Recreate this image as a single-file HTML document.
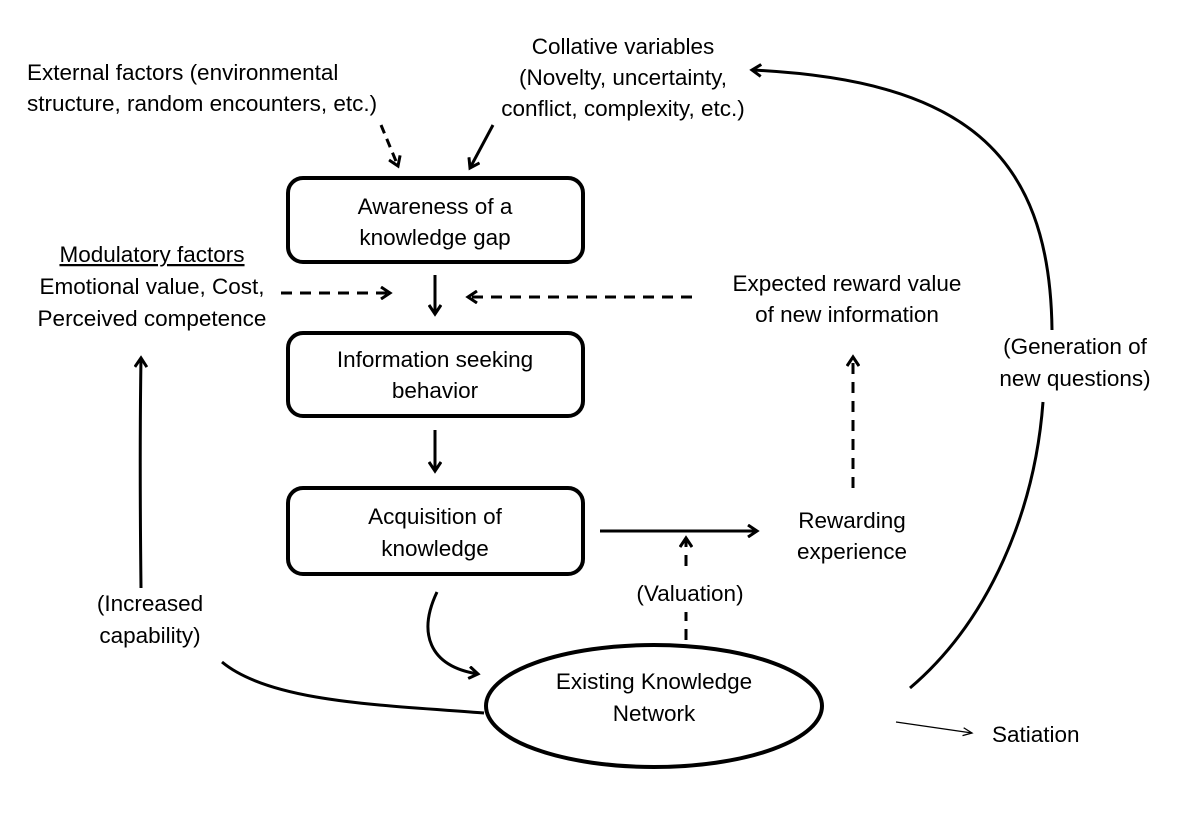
<!DOCTYPE html>
<html><head><style>
html,body{margin:0;padding:0;background:#fff;}
svg{display:block;}
text{font-family:"Liberation Sans",sans-serif;font-size:22.5px;fill:#000;}
</style></head><body>
<svg width="1200" height="817" viewBox="0 0 1200 817" xmlns="http://www.w3.org/2000/svg">
<defs>
<marker id="a" markerWidth="14" markerHeight="14" refX="10" refY="7" orient="auto" markerUnits="userSpaceOnUse">
<path d="M1,1 L10,7 L1,13" fill="none" stroke="#000" stroke-width="3"/>
</marker>
<marker id="t" markerWidth="12" markerHeight="10" refX="10" refY="5" orient="auto" markerUnits="userSpaceOnUse">
<path d="M1,1 L10,5 L1,9" fill="none" stroke="#000" stroke-width="1.3"/>
</marker>
</defs>
<g fill="none" stroke="#000" stroke-width="4">
<rect x="288" y="178" width="295" height="84" rx="15"/>
<rect x="288" y="333" width="295" height="83" rx="15"/>
<rect x="288" y="488" width="295" height="86" rx="15"/>
<ellipse cx="654" cy="706" rx="168" ry="61"/>
</g>
<g fill="none" stroke="#000" stroke-width="3">
<path d="M381,125 L398,166" stroke-dasharray="9,6" marker-end="url(#a)"/>
<path d="M493,125 L470,168" marker-end="url(#a)"/>
<path d="M435,275 L435,314" marker-end="url(#a)"/>
<path d="M281,293 L390,293" stroke-dasharray="11,8" marker-end="url(#a)"/>
<path d="M692,297 L468,297" stroke-dasharray="11,8" marker-end="url(#a)"/>
<path d="M435,430 L435,471" marker-end="url(#a)"/>
<path d="M600,531 L757,531" marker-end="url(#a)"/>
<path d="M686,640 L686,612" stroke-dasharray="11,8"/>
<path d="M686,566 L686,538" stroke-dasharray="11,8" marker-end="url(#a)"/>
<path d="M853,488 L853,357" stroke-dasharray="11,8" marker-end="url(#a)"/>
<path d="M437,592 C418,632 428,666 478,674" marker-end="url(#a)"/>
<path d="M484,713 C380,705 270,702 222,662"/>
<path d="M141,588 C140,500 140,420 141,358" marker-end="url(#a)"/>
<path d="M910,688 C990,620 1035,510 1043,402"/>
<path d="M1052,330 C1050,150 960,80 752,70" marker-end="url(#a)"/>
</g>
<path d="M896,722 L972,733" stroke="#000" stroke-width="1.3" fill="none" marker-end="url(#t)"/>
<g text-anchor="middle">
<text x="623" y="54">Collative variables</text>
<text x="623" y="85">(Novelty, uncertainty,</text>
<text x="623" y="116">conflict, complexity, etc.)</text>
<text x="152" y="262" text-decoration="underline">Modulatory factors</text>
<text x="152" y="294">Emotional value, Cost,</text>
<text x="152" y="326">Perceived competence</text>
<text x="847" y="291">Expected reward value</text>
<text x="847" y="322">of new information</text>
<text x="1075" y="354">(Generation of</text>
<text x="1075" y="386">new questions)</text>
<text x="852" y="528">Rewarding</text>
<text x="852" y="559">experience</text>
<text x="690" y="601">(Valuation)</text>
<text x="150" y="611">(Increased</text>
<text x="150" y="643">capability)</text>
<text x="435" y="214">Awareness of a</text>
<text x="435" y="245">knowledge gap</text>
<text x="435" y="367">Information seeking</text>
<text x="435" y="398">behavior</text>
<text x="435" y="524">Acquisition of</text>
<text x="435" y="556">knowledge</text>
<text x="654" y="689">Existing Knowledge</text>
<text x="654" y="721">Network</text>
</g>
<text x="27" y="80">External factors (environmental</text>
<text x="27" y="111">structure, random encounters, etc.)</text>
<text x="992" y="742">Satiation</text>
</svg>
</body></html>
